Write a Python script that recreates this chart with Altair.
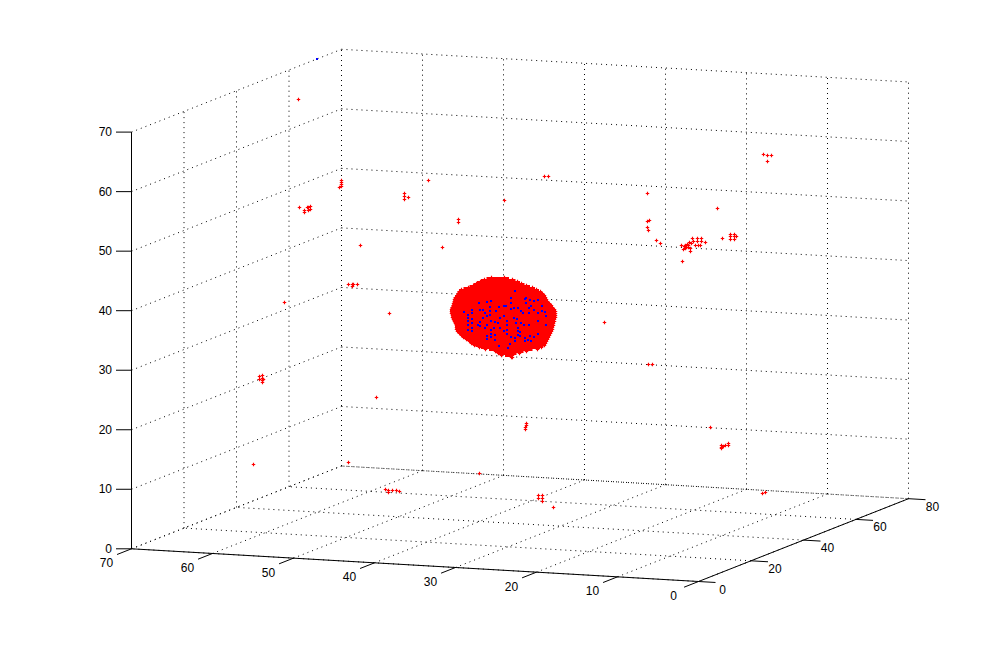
import math
import altair as alt
import pandas as pd

X_TICKS = [0, 10, 20, 30, 40, 50, 60, 70]
Y_TICKS = [0, 20, 40, 60, 80]
Z_TICKS = [0, 10, 20, 30, 40, 50, 60, 70]

# Picture-plane readings (horizontal, vertical) of the scatter, in screen units
RED_POINTS = [
    (299.3,207.3),(304.3,210.3),(304.3,212.3),(308.3,207.3),(310.3,206.3),(308.3,210),(310.3,209.3),(307.7,207.3),
    (341.7,180.7),(341.7,182.7),(341.7,184.7),(341.7,186.7),(339.3,187.3),
    (404.3,193.3),(404.3,196),(404.3,199.3),(408.3,197.3),(428.3,180.3),(458.3,219.3),(458.3,222.3),
    (360.3,245.3),(442.3,247.3),(284.3,302.3),(348.3,284.3),(352.3,284.3),(353.3,284.3),(352.3,286.7),(357,284.3),
    (389.3,313.3),(298.3,99.3),
    (763.3,154.3),(767.3,155.3),(771.3,155.3),(767.3,161.3),(647.3,193.3),(717.3,208.3),
    (647.7,221),(649.3,220.3),(647.7,227.3),(648.3,230),(656.3,240),(660.3,243.3),(722.3,238.3),
    (730.3,234),(734.3,234),(730.3,236.7),(734.3,236.7),(736.3,236.7),(730.3,239.3),(734.3,239.3),
    (681.7,245.3),(683.3,249.3),(685,245.3),(686.7,247.3),(688.3,245.3),(690,251.3),(690,248.3),(691.7,243.3),
    (692.3,238.7),(693.3,241.7),(695,245),(697,238.7),(697,241.7),(698.3,245),(701.3,238.7),(701.3,241.7),
    (700.7,245),(705,242.3),(687.3,244),(685,248.3),(689.3,242.7),(688,247),(684,246),(682.3,261.3),
    (253.3,464.3),(348.3,462.3),(385.7,489.3),(388.7,490.7),(388.7,492.7),(392.7,490.7),(396.7,490.7),(399.3,491.7),
    (762.7,493.3),(765.3,492.3),
    (259.3,376),(259.3,379.3),(262.3,375.3),(262.3,378),(262.3,380),(263.3,379.3),(262.3,382),(376.3,397.3),
    (526,423.3),(526,425.3),(525.7,427.3),(525.3,429.7),(479.3,473.3),
    (538.3,495.3),(538.3,498.7),(542.3,495.7),(542.3,498.7),(542.3,501.3),(553.3,507.3),
    (604.3,322.3),(648.3,364.3),(652.3,364.3),(710.3,427.3),
    (721.7,445.7),(721.7,448.3),(723.3,446),(725,445),(728.7,443.7),(728.7,445),(721.7,447),
    (504.3,200.3),(544.3,176.3),(548.3,176.3),
]

BLUE_POINTS = [
    (464.3,312.3),(468.3,315),(468.3,318.3),(468.3,321.7),(468.3,325),(468.3,330.7),(472.7,310),(472.7,313.3),
    (472.7,319.3),(472.7,323.3),(472.7,328.3),(472.7,331.7),(479.3,303.3),(480.7,310.7),(483.3,310.7),(485,313.3),
    (480,322.7),(478.3,325),(480,326.7),(483.3,318.3),(485,328.3),(487.3,302.7),(491,301.7),(487.3,316),
    (490.7,307.3),(490.7,311.7),(490.7,315),(491.7,321.7),(487.3,325),(491.7,330),(491,334),(487.3,336.7),
    (487.3,339.3),(491.7,337.3),(495,335),(495,340),(499.3,346),(495,322.7),(496,311.7),(499.3,307.7),
    (500.7,318.3),(500,328.3),(504,316),(504,306.7),(506.7,306.7),(507.7,321.7),(507.7,325),(507.7,330),
    (507.7,334),(504,331.7),(511,298.3),(511,303.3),(511,309),(514.3,308.3),(515,291.7),(518.3,308.3),
    (514,318.3),(517.3,319.3),(516,323.3),(518.3,328.3),(518.3,331.7),(518.3,335),(520,332.7),(515,338.3),
    (515,341.7),(511,337.3),(510,344.3),(508.3,348.3),(525,299.3),(526.7,298.3),(526.7,303.3),(530,300.7),
    (534,301.7),(538.3,300),(521.7,311.7),(523.3,313.3),(529.3,308.3),(531.7,306.7),(529.3,313.3),(534,310.7),
    (542.7,306.7),(542.7,311.7),(545,312.7),(538.3,313.3),(546,316.7),(546,325),(538.3,321.7),(529.3,325),
    (524.3,325),(521.7,323.3),(525,338.3),(528.3,340),(531.7,341.7),(530,336.7),(534,337.3),(538.3,334),
    (525,341.7),(520,336.7),(494,328.3),(498.3,323.3),(317,59.3),
]

# Dense core of the cloud: extent of the red marks on each screen row
CORE_ROW = [277,279,281,283,285,287,289,291,293,295,297,299,301,303,305,307,309,311,313,315,
            317,319,321,323,325,327,329,331,333,335,337,339,341,343,345,347,349,351,353,355,357]
CORE_LEFT = [490,483,479,475,472,467,460,458,457,456,454,453.5,453,452.5,452,451,450,450,450.5,451,
             451.5,452,453,454,455,455,455.5,456.5,458,460,462,465,468,470,473,478,484,494,497,500,510]
CORE_RIGHT = [505,513,518,522,527,533,537,541,543,545,546,547,548,550,552,553,555,556,556,556.5,
              556,555,555,554.5,554,553.5,553,552,551,550,549.5,548.5,547.5,546.5,545,542,538,527,520,513,513]

PAGE = 8
W, H = 980, 630
X_SCALE = alt.Scale(domain=[PAGE, PAGE + W], nice=False, zero=False)
Y_SCALE = alt.Scale(domain=[PAGE + H, PAGE], nice=False, zero=False)


def project(x, y, z):
    return (698.5 - 8.1 * x + 2.625 * y, 581.5 - 0.467 * x - 1.035 * y - 5.953 * z)


def seg(a, b):
    (u, v), (u2, v2) = project(*a), project(*b)
    return {"u": u, "v": v, "u2": u2, "v2": v2}


XM, YM, ZM = max(X_TICKS), max(Y_TICKS), max(Z_TICKS)
grid = []
for x in X_TICKS:
    grid.append(seg((x, 0, 0), (x, YM, 0)))
    grid.append(seg((x, YM, 0), (x, YM, ZM)))
for y in Y_TICKS:
    grid.append(seg((0, y, 0), (XM, y, 0)))
    grid.append(seg((XM, y, 0), (XM, y, ZM)))
for z in Z_TICKS:
    grid.append(seg((XM, 0, z), (XM, YM, z)))
    grid.append(seg((XM, YM, z), (0, YM, z)))

axes = [seg((0, 0, 0), (XM, 0, 0)), seg((0, 0, 0), (0, YM, 0)), seg((XM, 0, 0), (XM, 0, ZM))]
for x in X_TICKS:
    axes.append(seg((x, 0, 0), (x, -5.5, 0)))
for y in Y_TICKS:
    axes.append(seg((0, y, 0), (-2.1, y, 0)))
for z in Z_TICKS:
    (u, v) = project(XM, 0, z)
    axes.append({"u": u, "v": v, "u2": u - 15.5, "v2": v})

labels = []
for x in X_TICKS:
    u, v = project(x, 0, 0)
    labels.append({"u": u - 25, "v": v + 14.5, "t": str(x), "a": "center"})
for y in Y_TICKS:
    u, v = project(0, y, 0)
    labels.append({"u": u + 24, "v": v + 8, "t": str(y), "a": "center"})
for z in Z_TICKS:
    u, v = project(XM, 0, z)
    labels.append({"u": u - 19.5, "v": v, "t": str(z), "a": "right"})


def snap(pts, offset=0.5):
    return pd.DataFrame([{"u": math.floor(a) + offset, "v": math.floor(b) + offset} for a, b in pts])


U = alt.X("u:Q", scale=X_SCALE, axis=None)
V = alt.Y("v:Q", scale=Y_SCALE, axis=None)
U2 = alt.X2("u2:Q")
V2 = alt.Y2("v2:Q")

grid_layer = alt.Chart(pd.DataFrame(grid)).mark_rule(
    color="black", strokeWidth=1, strokeDash=[1, 4]
).encode(x=U, y=V, x2=U2, y2=V2)
axis_layer = alt.Chart(pd.DataFrame(axes)).mark_rule(color="black", strokeWidth=1).encode(x=U, y=V, x2=U2, y2=V2)
text_df = pd.DataFrame(labels)
center_text = alt.Chart(text_df[text_df.a == "center"]).mark_text(
    font="Liberation Sans", fontSize=12, color="black", align="center", baseline="middle"
).encode(x=U, y=V, text="t:N")
right_text = alt.Chart(text_df[text_df.a == "right"]).mark_text(
    font="Liberation Sans", fontSize=12, color="black", align="right", baseline="middle"
).encode(x=U, y=V, text="t:N")

core_df = pd.DataFrame({"row": CORE_ROW, "left": CORE_LEFT, "right": CORE_RIGHT})
core = alt.Chart(core_df).mark_area(orient="horizontal", color="#ff0000", interpolate="step").encode(
    y=alt.Y("row:Q", scale=Y_SCALE, axis=None),
    x=alt.X("left:Q", scale=X_SCALE, axis=None),
    x2=alt.X2("right:Q"),
)
edge_pts = [(l + 1, r) for l, r in zip(CORE_LEFT, CORE_ROW)] + [(rt - 1, r) for rt, r in zip(CORE_RIGHT, CORE_ROW)]

PLUS = "M-1,0H1M0,-1V1"
red = alt.Chart(snap(RED_POINTS + edge_pts)).mark_point(
    shape=PLUS, size=12, color="#ff0000", strokeWidth=1.2, filled=False, opacity=1
).encode(x=U, y=V)
blue = alt.Chart(snap(BLUE_POINTS, 0)).mark_point(
    shape="square", size=4, color="#0000ff", filled=True, opacity=1, strokeWidth=0
).encode(x=U, y=V)

chart = alt.layer(grid_layer, axis_layer, center_text, right_text, core, red, blue).properties(
    width=W, height=H, padding=0, background="white",
    autosize=alt.AutoSizeParams(type="none"),
).configure_view(stroke=None)

chart.save("out.html", embed_options={"renderer": "svg", "actions": False})
